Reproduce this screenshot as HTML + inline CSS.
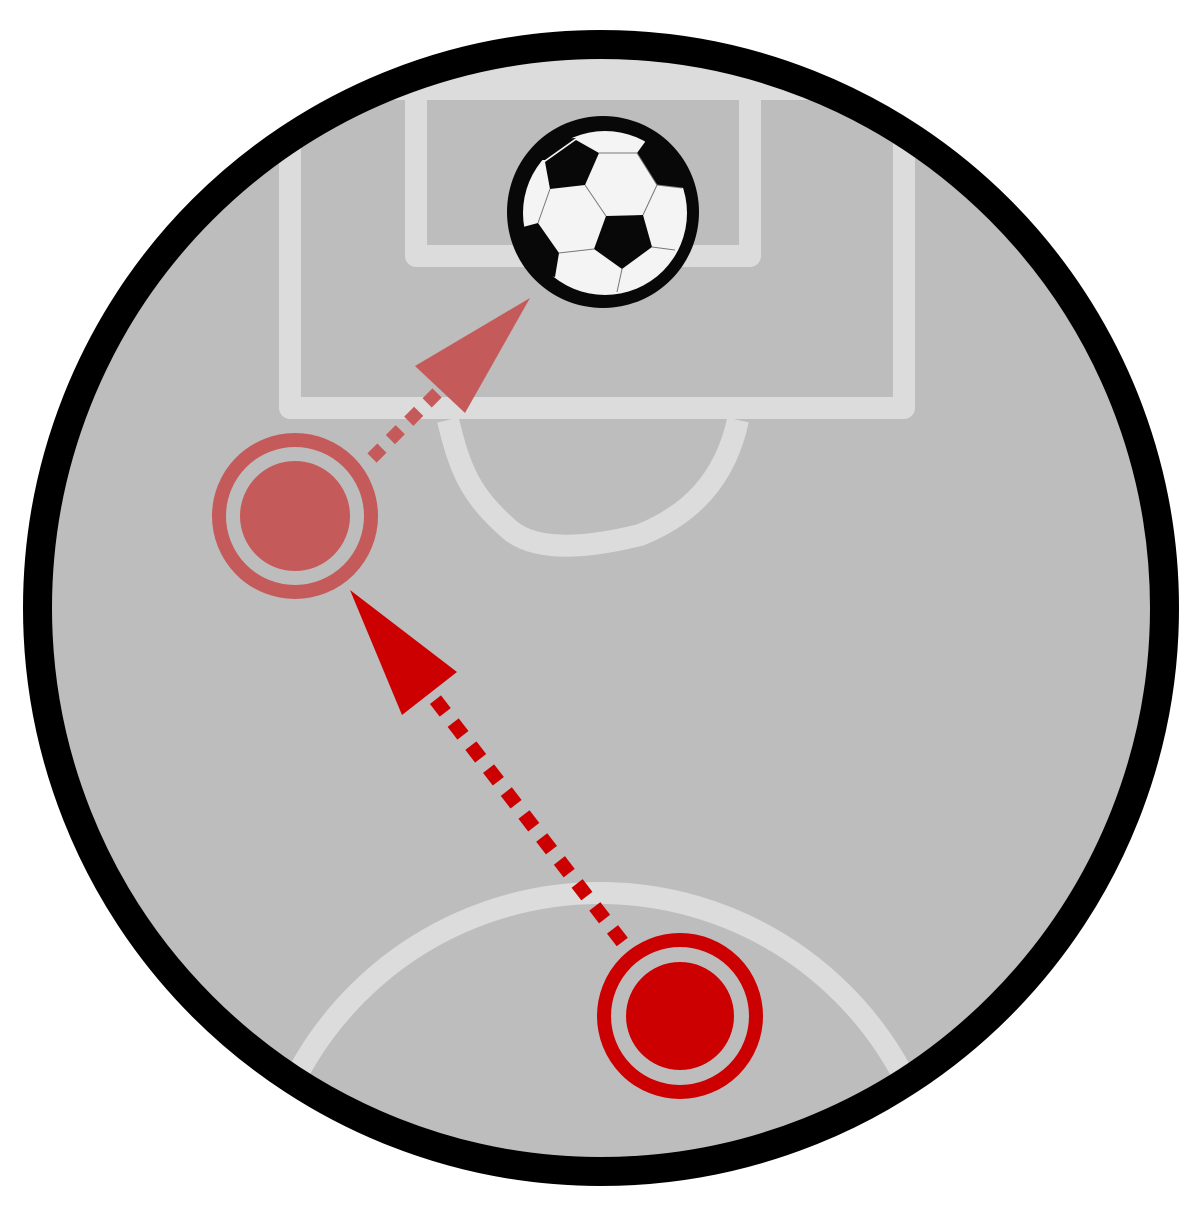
<!DOCTYPE html>
<html><head><meta charset="utf-8"><style>html,body{margin:0;padding:0;background:#fff;width:1200px;height:1208px;overflow:hidden;}svg{display:block}</style></head>
<body>
<svg width="1200" height="1208" viewBox="0 0 1200 1208">
<defs>
<clipPath id="pitch"><circle cx="601" cy="608" r="552"/></clipPath>
<clipPath id="ballclip"><circle cx="603" cy="212" r="95"/></clipPath>
</defs>
<circle cx="601" cy="608" r="552" fill="#bdbdbd"/>
<g clip-path="url(#pitch)" fill="none" stroke="#dcdcdc" stroke-width="22" stroke-linejoin="round">
  <rect x="0" y="0" width="1200" height="100" fill="#dcdcdc" stroke="none"/>
  <path d="M290 0 V408 H904 V0"/>
  <path d="M416 90 V256 H750 V90"/>
  <path d="M448 420 C460 470 470 495 510 530 C540 555 600 545 640 535 C690 515 725 480 738 420"/>
  <circle cx="600" cy="1236" r="343"/>
</g>
<circle cx="601" cy="608" r="563.5" fill="none" stroke="#000" stroke-width="29"/>
<g>
  <circle cx="603" cy="212" r="96" fill="#080808"/>
  <circle cx="605" cy="213" r="82" fill="#f4f4f4"/>
  <g fill="#080808" clip-path="url(#ballclip)">
    <polygon points="545,162 576,140 599,153 585,185 550,189"/>
    <polygon points="606,216 643,215 652,247 622,269 594,249"/>
    <polygon points="645,142 637,153 657,185 684,188 690,150 660,125"/>
    <polygon points="523,227 538,223 559,253 555,277 515,265"/>
    <polygon points="540,140 576,138 545,160 530,160"/>
  </g>
  <g fill="none" stroke="#777" stroke-width="1">
    <polyline points="599,153 637,153 657,185 643,215"/>
    <polyline points="585,185 606,216"/>
    <polyline points="657,185 682,188"/>
    <polyline points="550,189 538,223"/>
    <polyline points="559,253 594,249"/>
    <polyline points="622,269 617,292"/>
    <polyline points="652,247 675,250"/>
  </g>
</g>
<g>
  <line x1="372" y1="458" x2="440" y2="390" stroke="#c55a5a" stroke-width="13" stroke-dasharray="14 12"/>
  <polygon points="530,298 415,366 465,413" fill="#c55a5a"/>
</g>
<g>
  <line x1="640" y1="965" x2="428" y2="690" stroke="#cc0000" stroke-width="14" stroke-dasharray="16 13"/>
  <polygon points="350,590 457,672 402,715" fill="#cc0000"/>
</g>
<g>
  <circle cx="295" cy="516" r="76" fill="#bdbdbd" stroke="#c55a5a" stroke-width="14"/>
  <circle cx="295" cy="516" r="55" fill="#c55a5a"/>
</g>
<g>
  <circle cx="680" cy="1016" r="76" fill="#bdbdbd" stroke="#cc0000" stroke-width="14"/>
  <circle cx="680" cy="1016" r="54" fill="#cc0000"/>
</g>
</svg>
</body></html>
